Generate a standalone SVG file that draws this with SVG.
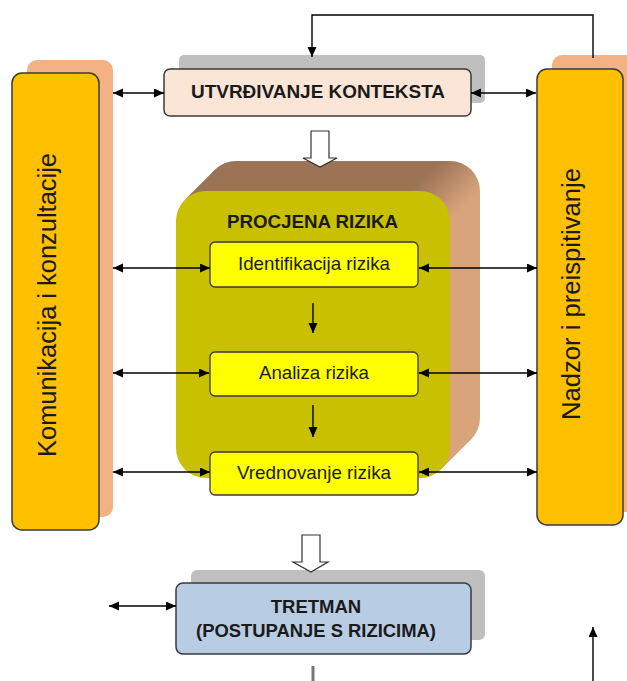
<svg xmlns="http://www.w3.org/2000/svg" width="627" height="681" viewBox="0 0 627 681">
<defs>
<marker id="ah" markerUnits="userSpaceOnUse" markerWidth="11" markerHeight="10" refX="10" refY="4.5" orient="auto-start-reverse">
<path d="M0,0 L10,4.5 L0,9 z" fill="#000"/>
</marker>
<linearGradient id="ext" gradientUnits="userSpaceOnUse" x1="300" y1="300" x2="335" y2="335">
<stop offset="0" stop-color="#9B7355"/>
<stop offset="1" stop-color="#D8A47C"/>
</linearGradient>
</defs>
<style>
.ln{stroke:#000;stroke-width:1.4;fill:none}
.col{fill:#FFC000;stroke:#3a3a3a;stroke-width:1.5}
.sh{fill:#F4B183}
.gs{fill:#BFBFBF}
.ib{fill:#FFFF00;stroke:#3a3a3a;stroke-width:1.3}
.hol{fill:#fff;stroke:#333;stroke-width:1.2}
.t{font-family:"Liberation Sans",Arial,sans-serif;fill:#1a1a1a;text-anchor:middle}
.b{font-weight:bold}
</style>

<g id="komunikacija">
<rect class="sh" x="27" y="60" width="86" height="457" rx="10"/>
<rect class="col" x="12" y="73" width="87" height="457" rx="10"/>
<text class="t" font-size="25" transform="translate(56,305) rotate(-90)" textLength="304" lengthAdjust="spacingAndGlyphs">Komunikacija i konzultacije</text>
</g>

<g id="nadzor">
<rect class="sh" x="552" y="55" width="90" height="457" rx="10"/>
<rect class="col" x="537" y="69" width="86" height="456" rx="10"/>
<text class="t" font-size="25" transform="translate(580,294) rotate(-90)" textLength="252" lengthAdjust="spacingAndGlyphs">Nadzor i preispitivanje</text>
</g>

<g id="kontekst">
<rect class="gs" x="179" y="55" width="306" height="48" rx="5"/>
<rect x="164" y="69" width="307" height="47" rx="6" fill="#FBE5D6" stroke="#3a3a3a" stroke-width="1.5"/>
<text class="t b" x="318" y="98" font-size="18.5" textLength="254" lengthAdjust="spacingAndGlyphs">UTVRĐIVANJE KONTEKSTA</text>
</g>

<g id="procjena">
<rect x="206" y="161" width="274" height="287" rx="30" fill="url(#ext)"/>
<polygon points="184.8,199.8 214.8,169.8 471.2,439.2 441.2,469.2" fill="url(#ext)"/>
<rect x="176" y="191" width="274" height="287" rx="30" fill="#C8C000"/>
<text class="t b" x="312.5" y="228" font-size="18.5" textLength="171" lengthAdjust="spacingAndGlyphs">PROCJENA RIZIKA</text>
</g>

<g id="identifikacija">
<rect class="ib" x="210" y="242" width="208" height="45" rx="5"/>
<text class="t" x="314" y="270" font-size="18.5" textLength="152" lengthAdjust="spacingAndGlyphs">Identifikacija rizika</text>
</g>

<g id="analiza">
<rect class="ib" x="210" y="352" width="208" height="44" rx="5"/>
<text class="t" x="314" y="379" font-size="18.5" textLength="110" lengthAdjust="spacingAndGlyphs">Analiza rizika</text>
</g>

<g id="vrednovanje">
<rect class="ib" x="210" y="452" width="208" height="43" rx="5"/>
<text class="t" x="314" y="479" font-size="18.5" textLength="154" lengthAdjust="spacingAndGlyphs">Vrednovanje rizika</text>
</g>

<g id="tretman">
<rect class="gs" x="191" y="570" width="294" height="70" rx="6"/>
<rect x="176" y="583" width="295" height="71" rx="7" fill="#B8CCE4" stroke="#3a3a3a" stroke-width="1.5"/>
<text class="t b" x="316" y="613" font-size="18.5">TRETMAN</text>
<text class="t b" x="316" y="637" font-size="18.5" textLength="240" lengthAdjust="spacingAndGlyphs">(POSTUPANJE S RIZICIMA)</text>
</g>

<g id="connectors">
<polyline class="ln" points="593,58 593,15 312,15 312,57" marker-end="url(#ah)"/>
<line class="ln" x1="113" y1="93" x2="164" y2="93" marker-start="url(#ah)" marker-end="url(#ah)"/>
<line class="ln" x1="471" y1="93" x2="536" y2="93" marker-start="url(#ah)" marker-end="url(#ah)"/>
<line class="ln" x1="113" y1="268" x2="210" y2="268" marker-start="url(#ah)" marker-end="url(#ah)"/>
<line class="ln" x1="419" y1="268" x2="537" y2="268" marker-start="url(#ah)" marker-end="url(#ah)"/>
<line class="ln" x1="113" y1="373" x2="209" y2="373" marker-start="url(#ah)" marker-end="url(#ah)"/>
<line class="ln" x1="419" y1="373" x2="537" y2="373" marker-start="url(#ah)" marker-end="url(#ah)"/>
<line class="ln" x1="113" y1="472" x2="210" y2="472" marker-start="url(#ah)" marker-end="url(#ah)"/>
<line class="ln" x1="419" y1="472" x2="537" y2="472" marker-start="url(#ah)" marker-end="url(#ah)"/>
<line class="ln" x1="313" y1="303" x2="313" y2="333" marker-end="url(#ah)"/>
<line class="ln" x1="313" y1="405" x2="313" y2="437" marker-end="url(#ah)"/>
<line class="ln" x1="109" y1="606" x2="176" y2="606" marker-start="url(#ah)" marker-end="url(#ah)"/>
<line class="ln" x1="593" y1="681" x2="593" y2="627" marker-end="url(#ah)"/>
<line x1="313" y1="666" x2="313" y2="681" stroke="#777" stroke-width="3"/>
<path class="hol" d="M311,131 H329 V158 H337 L320,167 L303,158 H311 Z"/>
<path class="hol" d="M302,535 H320 V562 H328 L311,572 L293,562 H302 Z"/>
</g>
</svg>
